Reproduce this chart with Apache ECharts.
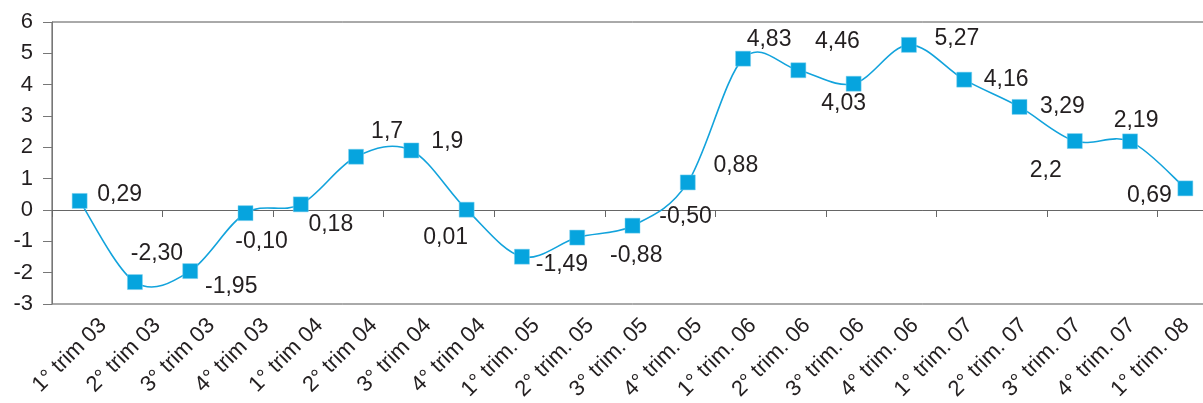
<!DOCTYPE html>
<html>
<head>
<meta charset="utf-8">
<script src="https://cdn.jsdelivr.net/npm/echarts@6/dist/echarts.min.js"></script>
<style>
html,body{margin:0;padding:0;background:#fff;overflow:hidden;}
#chart{width:1213px;height:403px;}
</style>
</head>
<body>
<div id="chart"></div>
<script>
const categories = ["1° trim 03","2° trim 03","3° trim 03","4° trim 03","1° trim 04","2° trim 04","3° trim 04","4° trim 04","1° trim. 05","2° trim. 05","3° trim. 05","4° trim. 05","1° trim. 06","2° trim. 06","3° trim. 06","4° trim. 06","1° trim. 07","2° trim. 07","3° trim. 07","4° trim. 07","1° trim. 08"];
const values = [0.29,-2.30,-1.95,-0.10,0.18,1.7,1.9,0.01,-1.49,-0.88,-0.50,0.88,4.83,4.46,4.03,5.27,4.16,3.29,2.2,2.19,0.69];
const valueLabels = ["0,29","-2,30","-1,95","-0,10","0,18","1,7","1,9","0,01","-1,49","-0,88","-0,50","0,88","4,83","4,46","4,03","5,27","4,16","3,29","2,2","2,19","0,69"];
const yTicks = {min:-3, max:6, interval:1};

// label placement (layout only, in pixels relative to each marker)
const labelOffsets = [[40,-6],[22,-28],[41,16],[16,29],[30,20],[31,-25],[36,-9],[-21,28],[40,8],[59,18],[53,-9],[48,-17],[26,-19],[39,-29],[-10,20],[48,-6],[42,0],[43,0],[-29,30],[6,-21],[-36,7]];

const txt = '#231f20';
const font = 'Liberation Sans, Arial, sans-serif';
const lineColor = '#12a3dc';
const chart = echarts.init(document.getElementById('chart'), null, {renderer:'canvas'});

const points = values.map((v,i)=>[i, v]);
const n = values.length;

function smoothSegment(params, api){
  const i = params.dataIndex;
  if (i >= n - 1) return null;
  const P = k => api.coord([Math.max(0, Math.min(n-1, k)), values[Math.max(0, Math.min(n-1, k))]]);
  const p0 = P(i-1), p1 = P(i), p2 = P(i+1), p3 = P(i+2);
  const t = 1/6;
  return {
    type:'bezierCurve',
    shape:{
      x1:p1[0], y1:p1[1], x2:p2[0], y2:p2[1],
      cpx1:p1[0] + (p2[0]-p0[0])*t, cpy1:p1[1] + (p2[1]-p0[1])*t,
      cpx2:p2[0] - (p3[0]-p1[0])*t, cpy2:p2[1] - (p3[1]-p1[1])*t
    },
    style:{stroke:lineColor, lineWidth:1.6, fill:null}
  };
}

chart.setOption({
  animation:false,
  backgroundColor:'#fff',
  grid:[
    {left:52, right:0, top:22, bottom:99, show:true, borderColor:'#555', borderWidth:1, backgroundColor:'transparent'},
    {left:76, right:0, top:22, bottom:99}
  ],
  xAxis:[
    {type:'category', gridIndex:0, data:categories, boundaryGap:true,
     axisLine:{onZero:true, lineStyle:{color:'#666', width:1}},
     axisTick:{show:true, inside:false, length:7, lineStyle:{color:'#666'}},
     axisLabel:{show:false}, splitLine:{show:false}},
    {type:'category', gridIndex:1, data:categories, position:'bottom', boundaryGap:true,
     axisLine:{show:false, onZero:false}, axisTick:{show:false},
     axisLabel:{show:true, rotate:45, margin:24, interval:0, fontSize:22, fontFamily:font, color:txt}}
  ],
  yAxis:[
    {type:'value', gridIndex:0, min:yTicks.min, max:yTicks.max, interval:yTicks.interval,
     axisLine:{show:true, lineStyle:{color:'#777', width:1}},
     axisTick:{show:true, length:9, lineStyle:{color:'#777'}},
     axisLabel:{margin:19, fontSize:22, fontFamily:font, color:txt},
     splitLine:{show:false}},
    {type:'value', gridIndex:1, min:yTicks.min, max:yTicks.max, interval:yTicks.interval, show:false, splitLine:{show:false}}
  ],
  series:[
    {
      type:'custom', xAxisIndex:0, yAxisIndex:0,
      data: points,
      renderItem: smoothSegment,
      silent:true, z:2
    },
    {
      type:'scatter', xAxisIndex:0, yAxisIndex:0,
      data: points.map((p,i)=>({value:p, label:{offset:labelOffsets[i]}})),
      symbol:'rect', symbolSize:15,
      itemStyle:{color:'#06a4de', borderColor:'#7fd0ee', borderWidth:0.5, opacity:1},
      label:{show:true, position:'inside', fontSize:23, fontFamily:font, color:txt,
        formatter:(p)=>valueLabels[p.dataIndex]},
      z:3
    }
  ]
});
</script>
</body>
</html>
